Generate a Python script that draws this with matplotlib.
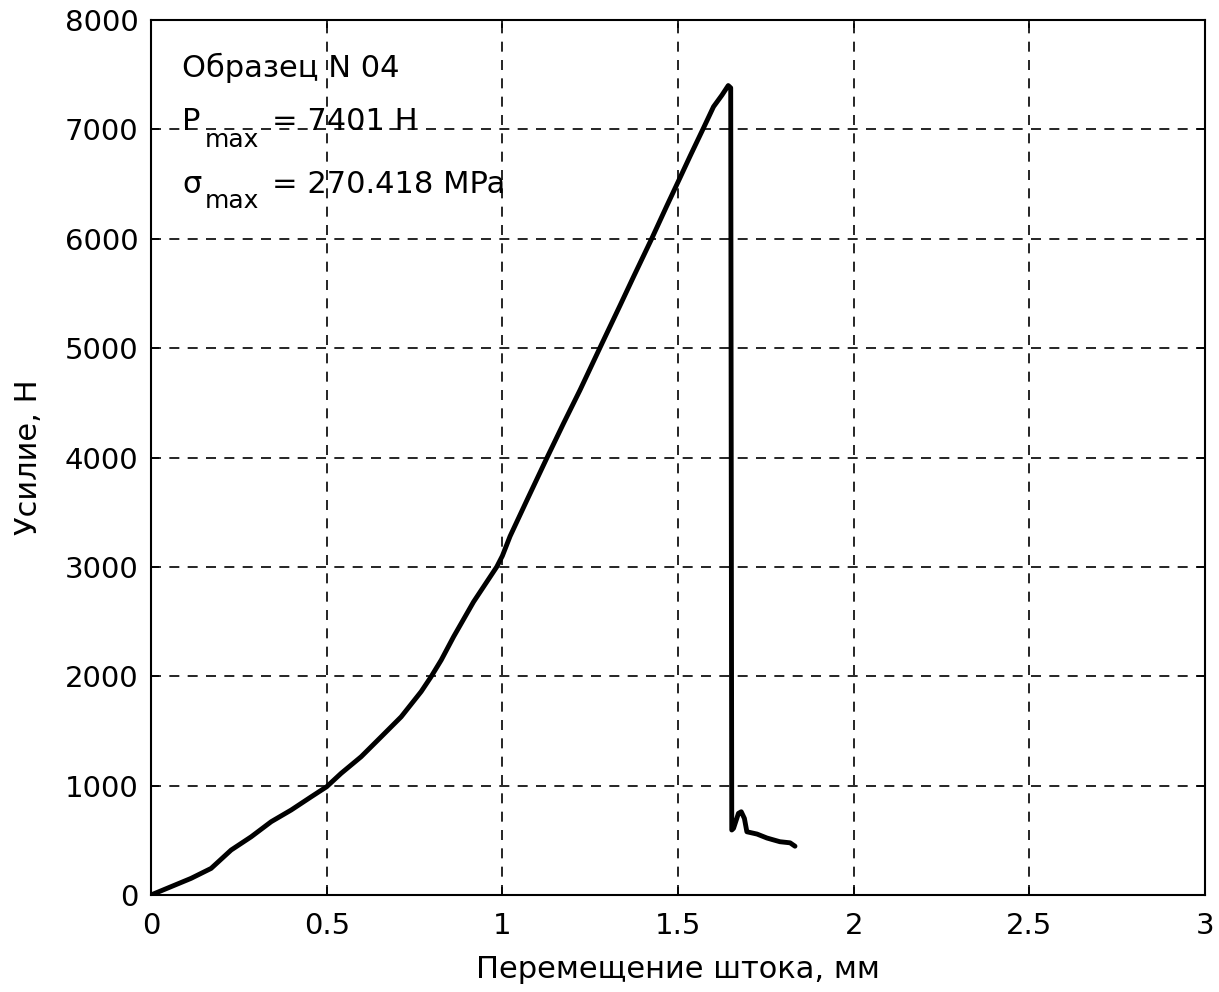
import matplotlib
matplotlib.use("Agg")
import matplotlib.pyplot as plt

plt.rcParams['font.family'] = ['DejaVu Sans']

# Displacement (mm) and force (N)
x_mm = [0.0, 0.057, 0.114, 0.171, 0.228, 0.285, 0.342, 0.399, 0.456, 0.5,
        0.541, 0.598, 0.655, 0.712, 0.769, 0.797, 0.826, 0.861, 0.918,
        0.984, 1.0, 1.022, 1.07, 1.126, 1.174, 1.221, 1.278, 1.335, 1.373, 1.425,
        1.468, 1.506, 1.535, 1.572, 1.601, 1.625, 1.643, 1.650, 1.653,
        1.658, 1.672, 1.680, 1.689, 1.696, 1.725, 1.753, 1.767, 1.790, 1.819, 1.833]
force_n = [0, 76, 152, 243, 411, 532, 670, 777, 898, 990,
           1112, 1264, 1446, 1629, 1860, 1995, 2148, 2360, 2680,
           3000, 3100, 3280, 3610, 3991, 4311, 4616, 5005, 5390, 5650, 6000,
           6300, 6560, 6760, 7009, 7207, 7313, 7401, 7380, 594,
           609, 746, 761, 700, 578, 557, 521, 508, 487, 477, 446]

x_ticks = [0, 0.5, 1, 1.5, 2, 2.5, 3]
x_tick_labels = ['0', '0.5', '1', '1.5', '2', '2.5', '3']
y_ticks = [0, 1000, 2000, 3000, 4000, 5000, 6000, 7000, 8000]

fig = plt.figure(figsize=(12.19, 9.92), dpi=100)
ax = fig.add_axes([0.1239, 0.0978, 0.8646, 0.882])

ax.plot(x_mm, force_n, color='black', lw=3.5, solid_joinstyle='round', solid_capstyle='round')

ax.set_xlim(0, 3)
ax.set_ylim(0, 8000)
ax.set_xticks(x_ticks)
ax.set_xticklabels(x_tick_labels)
ax.set_yticks(y_ticks)
ax.grid(True, color='black', linestyle=(0, (6, 5)), linewidth=1.2)
ax.tick_params(direction='in', length=6, width=1.2, labelsize=21,
               top=True, right=True)
ax.tick_params(axis='x', pad=12)
ax.tick_params(axis='y', pad=9)
for s in ax.spines.values():
    s.set_linewidth(1.5)

ax.set_xlabel('Перемещение штока, мм', fontsize=22, labelpad=11)
ax.set_ylabel('Усилие, Н', fontsize=22, labelpad=16)

fs = 22
fs_sub = 18
tr = ax.transAxes
ax.text(0.0294, 0.935, 'Образец N 04', transform=tr, fontsize=fs, va='baseline')
ax.text(0.0294, 0.874, 'P', transform=tr, fontsize=fs, va='baseline')
ax.text(0.0512, 0.855, 'max', transform=tr, fontsize=fs_sub, va='baseline')
ax.text(0.1145, 0.874, '= 7401 H', transform=tr, fontsize=fs, va='baseline')
ax.text(0.0294, 0.802, 'σ', transform=tr, fontsize=fs, va='baseline')
ax.text(0.0512, 0.785, 'max', transform=tr, fontsize=fs_sub, va='baseline')
ax.text(0.1145, 0.802, '= 270.418 MPa', transform=tr, fontsize=fs, va='baseline')

fig.savefig('out.png', dpi=100)
